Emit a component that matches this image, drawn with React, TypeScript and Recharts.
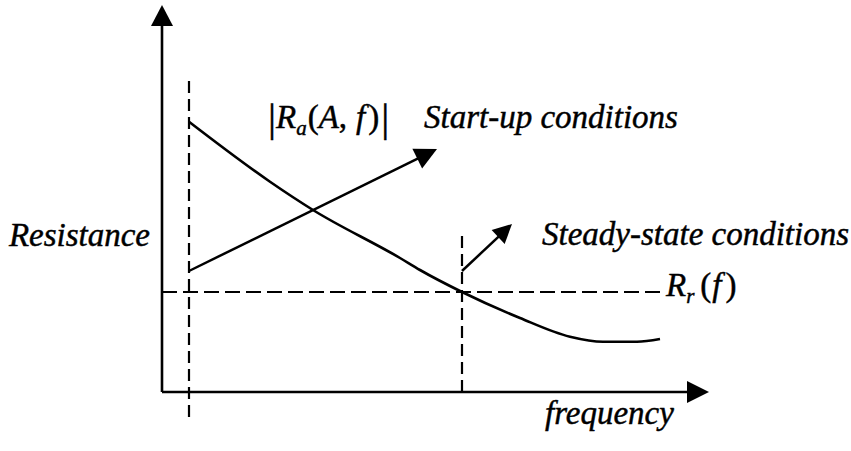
import React from 'react';
import { LineChart, Line, XAxis, YAxis, ReferenceLine, ReferenceDot } from 'recharts';

// |Ra(A, f)| curve: normalized frequency vs. resistance
const frequency = [0.54, 2.16, 3.02, 4.76, 5.16, 6.0, 7.16, 8.16, 8.82, 9.5, 9.96];
const resistanceRa = [10.81, 8.41, 7.28, 5.36, 4.88, 4.0, 2.96, 2.21, 2.01, 2.01, 2.12];

// Load resistance level Rr(f)
const rrLevel = 4.0;
const rrEndFreq = 10;

// Operating frequencies (start-up and steady state)
const startUpFreq = 0.54;
const steadyFreq = 6.0;
const startUpMarkerRange = [-1.0, 12.48];
const steadyMarkerRange = [0, 6.48];

// Direction arrows [frequency, resistance]
const startUpArrow = [[0.54, 4.84], [5.5, 9.72]];
const steadyArrow = [[6.0, 4.84], [7.0, 6.72]];

// Axis extents
const freqAxisEnd = 10.94;
const resAxisEnd = 15.48;

const curveData = frequency.map((f, i) => ({ f, r: resistanceRa[i] }));

const FONT = "'Liberation Serif', 'Times New Roman', serif";
const INK = '#000';
const TEXT_SIZE = 33;

const arrowShape = (headLen: number, headHalf: number, width: number) => (p: any) => {
  const { x1, y1, x2, y2 } = p;
  const dx = x2 - x1;
  const dy = y2 - y1;
  const len = Math.hypot(dx, dy) || 1;
  const ux = dx / len;
  const uy = dy / len;
  const bx = x2 - ux * headLen;
  const by = y2 - uy * headLen;
  const nx = -uy;
  const ny = ux;
  return (
    <g>
      <line x1={x1} y1={y1} x2={bx + ux} y2={by + uy} stroke={INK} strokeWidth={width} />
      <polygon
        points={`${x2},${y2} ${bx + nx * headHalf},${by + ny * headHalf} ${bx - nx * headHalf},${by - ny * headHalf}`}
        fill={INK}
      />
    </g>
  );
};

const textShape = (content: React.ReactNode, anchor: 'start' | 'end' = 'start', dx = 0, dy = 0) => (p: any) => (
  <text
    x={p.cx + dx}
    y={p.cy + dy}
    textAnchor={anchor}
    fill={INK}
    stroke={INK}
    strokeWidth={0.45}
    style={{ fontFamily: FONT, fontStyle: 'italic', fontSize: TEXT_SIZE }}
  >
    {content}
  </text>
);

const up = { fontStyle: 'normal' as const };
const bar = { fontStyle: 'normal' as const, fontSize: 40 };
const sub = { fontSize: 21 };

const raLabel = (
  <>
    <tspan style={bar} dy={3}>|</tspan>
    <tspan dy={-3}>R</tspan>
    <tspan style={sub} dy={7}>a</tspan>
    <tspan style={up} dy={-7} dx={1}>(</tspan>
    <tspan>A</tspan>
    <tspan style={up}>,</tspan>
    <tspan dx={9}>f</tspan>
    <tspan style={up} dx={3}>)</tspan>
    <tspan style={bar} dy={3} dx={2}>|</tspan>
  </>
);

const rrLabel = (
  <>
    <tspan>R</tspan>
    <tspan style={sub} dy={7}>r</tspan>
    <tspan style={up} dy={-7} dx={6}>(</tspan>
    <tspan dx={1}>f</tspan>
    <tspan style={up} dx={4}>)</tspan>
  </>
);

export default function App() {
  return (
    <div style={{ position: 'absolute', left: 0, top: 0, background: '#fff' }}>
      <LineChart
        width={851}
        height={451}
        data={curveData}
        margin={{ top: 4, right: 139, bottom: 9, left: 162 }}
      >
        <XAxis type="number" dataKey="f" domain={[0, 11]} hide />
        <YAxis type="number" domain={[-2, 15.52]} hide />

        {/* axes with arrowheads */}
        <ReferenceLine
          segment={[{ x: 0, y: 0 }, { x: 0, y: resAxisEnd }]}
          shape={arrowShape(21, 11, 2.6)}
        />
        <ReferenceLine
          segment={[{ x: 0, y: 0 }, { x: freqAxisEnd, y: 0 }]}
          shape={arrowShape(22, 11, 2.6)}
        />

        {/* dashed markers */}
        <ReferenceLine
          segment={[{ x: startUpFreq, y: startUpMarkerRange[0] }, { x: startUpFreq, y: startUpMarkerRange[1] }]}
          stroke={INK}
          strokeWidth={2.2}
          strokeDasharray="12 6"
        />
        <ReferenceLine
          segment={[{ x: steadyFreq, y: steadyMarkerRange[0] }, { x: steadyFreq, y: steadyMarkerRange[1] }]}
          stroke={INK}
          strokeWidth={2.2}
          strokeDasharray="12 6"
        />
        <ReferenceLine
          segment={[{ x: 0, y: rrLevel }, { x: rrEndFreq, y: rrLevel }]}
          stroke={INK}
          strokeWidth={2.2}
          strokeDasharray="15 6"
        />

        {/* direction arrows */}
        <ReferenceLine
          segment={startUpArrow.map(([x, y]) => ({ x, y }))}
          shape={arrowShape(22, 11, 2.5)}
        />
        <ReferenceLine
          segment={steadyArrow.map(([x, y]) => ({ x, y }))}
          shape={arrowShape(19, 9.5, 2.5)}
        />

        <Line
          type="monotone"
          dataKey="r"
          stroke={INK}
          strokeWidth={2.6}
          dot={false}
          activeDot={false}
          isAnimationActive={false}
        />

        {/* text labels */}
        <ReferenceDot x={0} y={5.84} r={0} shape={textShape('Resistance', 'end', -12)} />
        <ReferenceDot x={2.12} y={10.56} r={0} shape={textShape(raLabel)} />
        <ReferenceDot x={5.24} y={10.56} r={0} shape={textShape('Start-up conditions')} />
        <ReferenceDot x={7.6} y={5.88} r={0} shape={textShape('Steady-state conditions')} />
        <ReferenceDot x={rrEndFreq} y={rrLevel} r={0} shape={textShape(rrLabel, 'start', 4, 4)} />
        <ReferenceDot x={7.66} y={-1.28} r={0} shape={textShape('frequency')} />
      </LineChart>
    </div>
  );
}
